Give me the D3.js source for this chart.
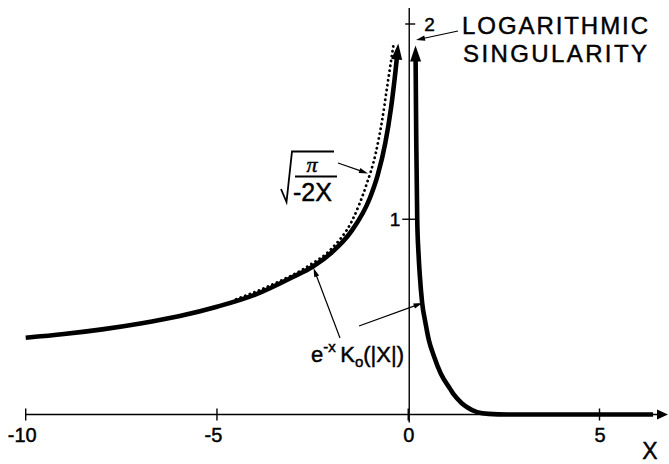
<!DOCTYPE html>
<html>
<head>
<meta charset="utf-8">
<script src="https://cdn.jsdelivr.net/npm/d3@7"></script>
<style>
  body { margin: 0; background: #fff; }
  text { font-family: "Liberation Sans", Arial, sans-serif; fill: #000; stroke: #000; stroke-width: 0.45px; }
</style>
</head>
<body>
<svg id="chart" width="669" height="464"></svg>
<script>
// e^{-x} K0(|x|) for x < 0 (rises toward the logarithmic singularity at 0)
const leftX = [-10, -9, -8, -7, -6, -5, -4, -3, -2.5, -2, -1.5, -1, -0.8, -0.6, -0.45, -0.33, -0.26];
const leftY = [0.393, 0.412, 0.436, 0.466, 0.503, 0.552, 0.614, 0.706, 0.757, 0.83, 0.935, 1.11, 1.225, 1.39, 1.57, 1.765, 1.90];

// e^{-x} K0(x) for x > 0 (falls off quickly to zero)
const rightX = [0.19, 0.21, 0.235, 0.27, 0.30, 0.365, 0.45, 0.54, 0.67, 0.85, 1.1, 1.2, 1.4, 1.55, 1.8, 2.1, 2.6, 3.5, 5, 6.4];
const rightY = [1.89, 1.40, 1.00, 0.82, 0.72, 0.57, 0.47, 0.38, 0.30, 0.21, 0.13, 0.10, 0.058, 0.036, 0.012, 0.003, 0, 0, 0, 0];

// asymptotic form sqrt(pi / (-2x)) for x < 0 (dotted)
const asymX = [-4.5, -3.5, -2.6, -2.0, -1.46, -1.11, -0.85, -0.68, -0.55, -0.39];
const asymY = [0.59, 0.67, 0.762, 0.85, 0.996, 1.167, 1.338, 1.51, 1.68, 1.888];

// axis ticks
const xTicks = [-10, -5, 0, 5];
const xTickLabels = ["-10", "-5", "0", "5"];
const yTicks = [1, 2];
const yTickLabels = ["1", "2"];

const svg = d3.select("#chart");
const x = d3.scaleLinear().domain([-10, 5]).range([25.7, 599.5]);
const y = d3.scaleLinear().domain([0, 2]).range([414.5, 24]);
const x0 = x(0), y0 = y(0);

const line = d3.line().x(d => x(d[0])).y(d => y(d[1])).curve(d3.curveMonotoneX);
const zip = (a, b) => a.map((v, i) => [v, b[i]]);

// filled arrowhead at an end of a drawn path; the stroke is cut back under it
function arrowOnPath(path, atEnd, len, hw) {
  const node = path.node();
  const L = node.getTotalLength();
  const tip = node.getPointAtLength(atEnd ? L : 0);
  const base = node.getPointAtLength(atEnd ? L - len : len);
  const dx = tip.x - base.x, dy = tip.y - base.y;
  const m = Math.hypot(dx, dy);
  const nx = -dy / m * hw, ny = dx / m * hw;
  svg.append("polygon")
    .attr("points", [[tip.x, tip.y], [base.x + nx, base.y + ny], [base.x - nx, base.y - ny]].map(p => p.join(",")).join(" "))
    .attr("fill", "#000");
  if (atEnd) path.attr("stroke-dasharray", `${L - len + 3} ${L}`);
  else path.attr("stroke-dasharray", `0 ${len - 3} ${L}`);
}

function arrowLine(x1, y1, x2, y2, len = 9, hw = 2.6) {
  const dx = x2 - x1, dy = y2 - y1, m = Math.hypot(dx, dy);
  const ux = dx / m, uy = dy / m;
  const bx = x2 - ux * len, by = y2 - uy * len;
  svg.append("line").attr("x1", x1).attr("y1", y1).attr("x2", bx + ux * 2).attr("y2", by + uy * 2)
    .attr("stroke", "#000").attr("stroke-width", 1.2);
  svg.append("polygon")
    .attr("points", [[x2, y2], [bx - uy * hw, by + ux * hw], [bx + uy * hw, by - ux * hw]].map(p => p.join(",")).join(" "))
    .attr("fill", "#000");
}

// x axis with arrow
svg.append("line").attr("x1", x(-10)).attr("y1", y0).attr("x2", 660).attr("y2", y0)
  .attr("stroke", "#000").attr("stroke-width", 1.6);
svg.append("polygon").attr("points", `668,${y0} 657,${y0 - 5} 657,${y0 + 5}`).attr("fill", "#000");

svg.selectAll(".xtick").data(xTicks).join("line")
  .attr("x1", d => x(d)).attr("x2", d => x(d))
  .attr("y1", y0 - 6).attr("y2", y0 + 6)
  .attr("stroke", "#000").attr("stroke-width", 1.4);

const xAxis = d3.axisBottom(x).tickValues(xTicks).tickSize(0)
  .tickFormat((d, i) => xTickLabels[i]);
const gx = svg.append("g").attr("transform", `translate(0,${y0})`).call(xAxis);
gx.select(".domain").remove();
gx.selectAll("text")
  .attr("y", 27).attr("dy", 0)
  .attr("dx", d => d < 0 ? -4 : 0)
  .style("font-family", "'Liberation Sans', Arial, sans-serif")
  .style("font-size", "20px").attr("fill", "#000");

svg.append("text").attr("x", 650).attr("y", 459).attr("text-anchor", "middle")
  .style("font-size", "23px").text("X");

// y axis (vertical line through 0)
svg.append("line").attr("x1", x0 + 1).attr("y1", 8).attr("x2", x0 + 1).attr("y2", y0 + 8)
  .attr("stroke", "#000").attr("stroke-width", 1.4);
svg.selectAll(".ytick").data(yTicks).join("line")
  .attr("x1", d => x0 + (d === 1 ? -6 : -3)).attr("x2", x0 + 7)
  .attr("y1", d => y(d)).attr("y2", d => y(d))
  .attr("stroke", "#000").attr("stroke-width", 1.4);
svg.append("text").attr("x", x0 - 8).attr("y", y(1) + 7).attr("text-anchor", "end")
  .style("font-size", "19px").text(yTickLabels[0]);
svg.append("text").attr("x", x0 + 16).attr("y", y(2) + 7)
  .style("font-size", "19px").text(yTickLabels[1]);

// dotted asymptote
svg.append("path").datum(zip(asymX, asymY)).attr("d", line)
  .attr("fill", "none").attr("stroke", "#000").attr("stroke-width", 2.8)
  .attr("stroke-linecap", "round").attr("stroke-dasharray", "0.1 4.8");

// main curve, two branches
const leftPath = svg.append("path").datum(zip(leftX, leftY)).attr("d", line)
  .attr("fill", "none").attr("stroke", "#000").attr("stroke-width", 4.6);
arrowOnPath(leftPath, true, 16, 5.5);

const rightPath = svg.append("path").datum(zip(rightX, rightY)).attr("d", line)
  .attr("fill", "none").attr("stroke", "#000").attr("stroke-width", 4.6);
arrowOnPath(rightPath, false, 16, 5.5);

// "LOGARITHMIC SINGULARITY"
svg.append("text").attr("x", 462).attr("y", 34).style("font-size", "24px")
  .attr("textLength", 186).attr("lengthAdjust", "spacing").text("LOGARITHMIC");
svg.append("text").attr("x", 463).attr("y", 62).style("font-size", "24px")
  .attr("textLength", 184).attr("lengthAdjust", "spacing").text("SINGULARITY");
arrowLine(458, 31, 416, 40);

// sqrt(pi / -2X)
svg.append("path").attr("d", "M281,189 L286.5,202 L292,151.5 L334,151.5")
  .attr("fill", "none").attr("stroke", "#000").attr("stroke-width", 1.8);
svg.append("line").attr("x1", 295).attr("x2", 337).attr("y1", 176.5).attr("y2", 176.5)
  .attr("stroke", "#000").attr("stroke-width", 1.8);
svg.append("text").attr("x", 312).attr("y", 172).attr("text-anchor", "middle")
  .style("font-family", "'Liberation Serif', serif").style("font-size", "22px").style("font-style", "italic")
  .text("π");
svg.append("text").attr("x", 293).attr("y", 201).style("font-size", "25px").text("-2X");
arrowLine(338, 163, 368, 173.5);

// e^{-x} K0(|X|)
const lab = svg.append("text").attr("x", 404).attr("y", 362).attr("text-anchor", "end")
  .style("font-size", "22px");
lab.append("tspan").text("e");
lab.append("tspan").attr("dy", -10).style("font-size", "15px").text("-x");
lab.append("tspan").attr("dy", 10).text("\u2009K");
lab.append("tspan").attr("dy", 5).style("font-size", "15px").text("o");
lab.append("tspan").attr("dy", -5).text("(|X|)");
arrowLine(340, 338, 313.5, 268);
arrowLine(359, 326, 422.5, 303);
</script>
</body>
</html>
